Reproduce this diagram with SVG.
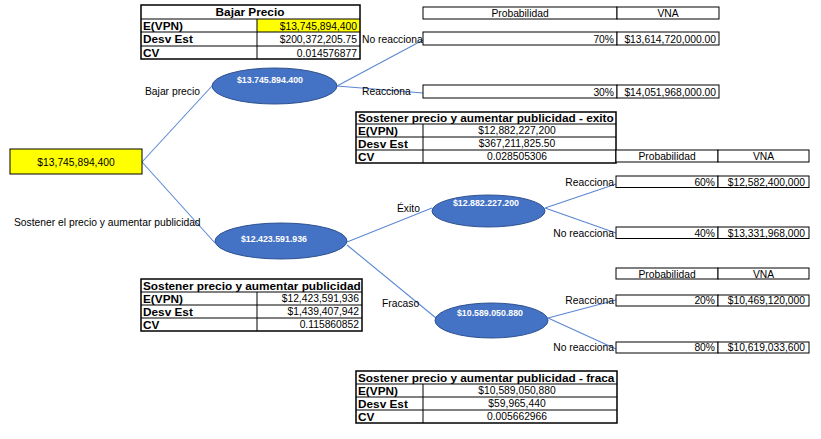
<svg xmlns="http://www.w3.org/2000/svg" width="821" height="439" viewBox="0 0 821 439">
<style>
  text { font-family: "Liberation Sans", Arial, sans-serif; font-size: 10.3px; fill: #000; }
  .b { font-weight: bold; font-size: 11.8px; }
  .r { text-anchor: end; }
  .m { text-anchor: middle; }
  .et { font-weight: bold; font-size: 8.8px; fill: #fff; text-anchor: middle; }
  .cell { fill: #fff; stroke: #000; stroke-width: 1; }
  .out { fill: none; stroke: #000; stroke-width: 1.5; }
  .ln { stroke: #000; stroke-width: 1; }
  .conn { stroke: #5b87d3; stroke-width: 1.1; fill: none; }
  .ell { fill: #4472c4; stroke: #2f528f; stroke-width: 1; }
</style>

<g id="connectors">
  <line class="conn" x1="142" y1="162" x2="212" y2="86"/>
  <line class="conn" x1="142" y1="162" x2="215" y2="243"/>
  <line class="conn" x1="337" y1="86" x2="423" y2="40"/>
  <line class="conn" x1="337" y1="86" x2="423" y2="93"/>
  <line class="conn" x1="347" y1="242" x2="432" y2="208"/>
  <line class="conn" x1="347" y1="245" x2="436" y2="318"/>
  <line class="conn" x1="545" y1="208" x2="616" y2="184"/>
  <line class="conn" x1="545" y1="208" x2="616" y2="233"/>
  <line class="conn" x1="548" y1="318" x2="616" y2="300"/>
  <line class="conn" x1="548" y1="318" x2="616" y2="349"/>
</g>

<g id="root">
  <rect x="10" y="149" width="132" height="25" fill="#ffff00" stroke="#000" stroke-width="1"/>
  <text class="m" x="76" y="165.5">$13,745,894,400</text>
</g>

<g id="edge-labels">
  <text x="145" y="95">Bajar precio</text>
  <text x="14" y="226">Sostener el precio y aumentar publicidad</text>
  <text x="397" y="212">Éxito</text>
  <text x="382" y="307">Fracaso</text>
  <text x="362" y="43">No reacciona</text>
  <text x="362" y="95">Reacciona</text>
  <text class="r" x="614" y="186">Reacciona</text>
  <text class="r" x="614" y="237">No reacciona</text>
  <text class="r" x="614" y="304">Reacciona</text>
  <text class="r" x="614" y="351">No reacciona</text>
</g>

<g id="node-bajar">
  <ellipse class="ell" cx="274.5" cy="86" rx="62.5" ry="18"/>
  <text class="et" x="270" y="83">$13.745.894.400</text>
</g>
<g id="node-sostener">
  <ellipse class="ell" cx="281" cy="241" rx="66" ry="18"/>
  <text class="et" x="274" y="242">$12.423.591.936</text>
</g>
<g id="node-exito">
  <ellipse class="ell" cx="488.5" cy="211" rx="56.5" ry="16"/>
  <text class="et" x="486" y="206">$12.882.227.200</text>
</g>
<g id="node-fracaso">
  <ellipse class="ell" cx="491.5" cy="320.5" rx="56.5" ry="17.5"/>
  <text class="et" x="490" y="316">$10.589.050.880</text>
</g>

<g id="table-bajar">
  <rect x="141" y="5" width="219" height="54" fill="#fff"/>
  <rect x="257" y="19" width="103" height="13" fill="#ffff00"/>
  <line class="ln" x1="141" y1="19" x2="360" y2="19"/>
  <line class="ln" x1="141" y1="32" x2="360" y2="32"/>
  <line class="ln" x1="141" y1="46" x2="360" y2="46"/>
  <line class="ln" x1="257" y1="19" x2="257" y2="59"/>
  <rect class="out" x="141" y="5" width="219" height="54"/>
  <text class="b m" x="250" y="16">Bajar Precio</text>
  <text class="b" x="143" y="30">E(VPN)</text>
  <text class="b" x="143" y="43">Desv Est</text>
  <text class="b" x="143" y="57">CV</text>
  <text class="r" x="357" y="29.5">$13,745,894,400</text>
  <text class="r" x="357" y="43">$200,372,205.75</text>
  <text class="r" x="357" y="56.5">0.014576877</text>
</g>

<g id="table-top-prob">
  <rect class="cell" x="423" y="7" width="194" height="12"/>
  <rect class="cell" x="617" y="7" width="102" height="12"/>
  <text class="m" x="520" y="17">Probabilidad</text>
  <text class="m" x="668" y="17">VNA</text>
  <rect class="cell" x="423" y="32" width="194" height="13"/>
  <rect class="cell" x="617" y="32" width="102" height="13"/>
  <text class="r" x="614" y="42.5">70%</text>
  <text class="r" x="716" y="42.5">$13,614,720,000.00</text>
  <rect class="cell" x="423" y="85" width="194" height="13"/>
  <rect class="cell" x="617" y="85" width="102" height="13"/>
  <text class="r" x="614" y="95.5">30%</text>
  <text class="r" x="716" y="95.5">$14,051,968,000.00</text>
</g>

<g id="table-exito">
  <rect x="356" y="112" width="260" height="51" fill="#fff"/>
  <line class="ln" x1="356" y1="124" x2="616" y2="124"/>
  <line class="ln" x1="356" y1="137" x2="616" y2="137"/>
  <line class="ln" x1="356" y1="150" x2="616" y2="150"/>
  <line class="ln" x1="423" y1="124" x2="423" y2="163"/>
  <rect class="out" x="356" y="112" width="260" height="51"/>
  <text class="b" x="358" y="122">Sostener precio y aumentar publicidad - exito</text>
  <text class="b" x="358" y="134.5">E(VPN)</text>
  <text class="b" x="358" y="147.5">Desv Est</text>
  <text class="b" x="358" y="160.5">CV</text>
  <text class="m" x="517" y="134">$12,882,227,200</text>
  <text class="m" x="517" y="147">$367,211,825.50</text>
  <text class="m" x="517" y="160">0.028505306</text>
</g>

<g id="table-exito-prob">
  <rect class="cell" x="616" y="150" width="102" height="12"/>
  <rect class="cell" x="718" y="150" width="91" height="12"/>
  <text class="m" x="667" y="160">Probabilidad</text>
  <text class="m" x="763.5" y="160">VNA</text>
  <rect class="cell" x="616" y="176" width="102" height="11.5"/>
  <rect class="cell" x="718" y="176" width="91" height="11.5"/>
  <text class="r" x="715" y="185.5">60%</text>
  <text class="r" x="805" y="185.5">$12,582,400,000</text>
  <rect class="cell" x="616" y="227" width="102" height="11.5"/>
  <rect class="cell" x="718" y="227" width="91" height="11.5"/>
  <text class="r" x="715" y="236.5">40%</text>
  <text class="r" x="805" y="236.5">$13,331,968,000</text>
</g>

<g id="table-sostener">
  <rect x="141" y="279" width="221" height="52" fill="#fff"/>
  <line class="ln" x1="141" y1="292" x2="362" y2="292"/>
  <line class="ln" x1="141" y1="305" x2="362" y2="305"/>
  <line class="ln" x1="141" y1="318" x2="362" y2="318"/>
  <line class="ln" x1="257" y1="292" x2="257" y2="331"/>
  <rect class="out" x="141" y="279" width="221" height="52"/>
  <text class="b" x="143" y="289.5">Sostener precio y aumentar publicidad</text>
  <text class="b" x="143" y="302.5">E(VPN)</text>
  <text class="b" x="143" y="315.5">Desv Est</text>
  <text class="b" x="143" y="328.5">CV</text>
  <text class="r" x="359" y="302">$12,423,591,936</text>
  <text class="r" x="359" y="315">$1,439,407,942</text>
  <text class="r" x="359" y="328">0.115860852</text>
</g>

<g id="table-fracaso-prob">
  <rect class="cell" x="616" y="268" width="102" height="11"/>
  <rect class="cell" x="718" y="268" width="91" height="11"/>
  <text class="m" x="667" y="277.5">Probabilidad</text>
  <text class="m" x="763.5" y="277.5">VNA</text>
  <rect class="cell" x="616" y="295" width="102" height="11"/>
  <rect class="cell" x="718" y="295" width="91" height="11"/>
  <text class="r" x="715" y="304">20%</text>
  <text class="r" x="805" y="304">$10,469,120,000</text>
  <rect class="cell" x="616" y="342" width="102" height="11"/>
  <rect class="cell" x="718" y="342" width="91" height="11"/>
  <text class="r" x="715" y="351">80%</text>
  <text class="r" x="805" y="351">$10,619,033,600</text>
</g>

<g id="table-fracaso">
  <rect x="356" y="371" width="261" height="52" fill="#fff"/>
  <line class="ln" x1="356" y1="384" x2="617" y2="384"/>
  <line class="ln" x1="356" y1="397" x2="617" y2="397"/>
  <line class="ln" x1="356" y1="410" x2="617" y2="410"/>
  <line class="ln" x1="423" y1="384" x2="423" y2="423"/>
  <rect class="out" x="356" y="371" width="261" height="52"/>
  <text class="b" x="358" y="381.5">Sostener precio y aumentar publicidad - fraca</text>
  <text class="b" x="358" y="394.5">E(VPN)</text>
  <text class="b" x="358" y="407.5">Desv Est</text>
  <text class="b" x="358" y="420.5">CV</text>
  <text class="m" x="517" y="394">$10,589,050,880</text>
  <text class="m" x="517" y="407">$59,965,440</text>
  <text class="m" x="517" y="420">0.005662966</text>
</g>
</svg>
